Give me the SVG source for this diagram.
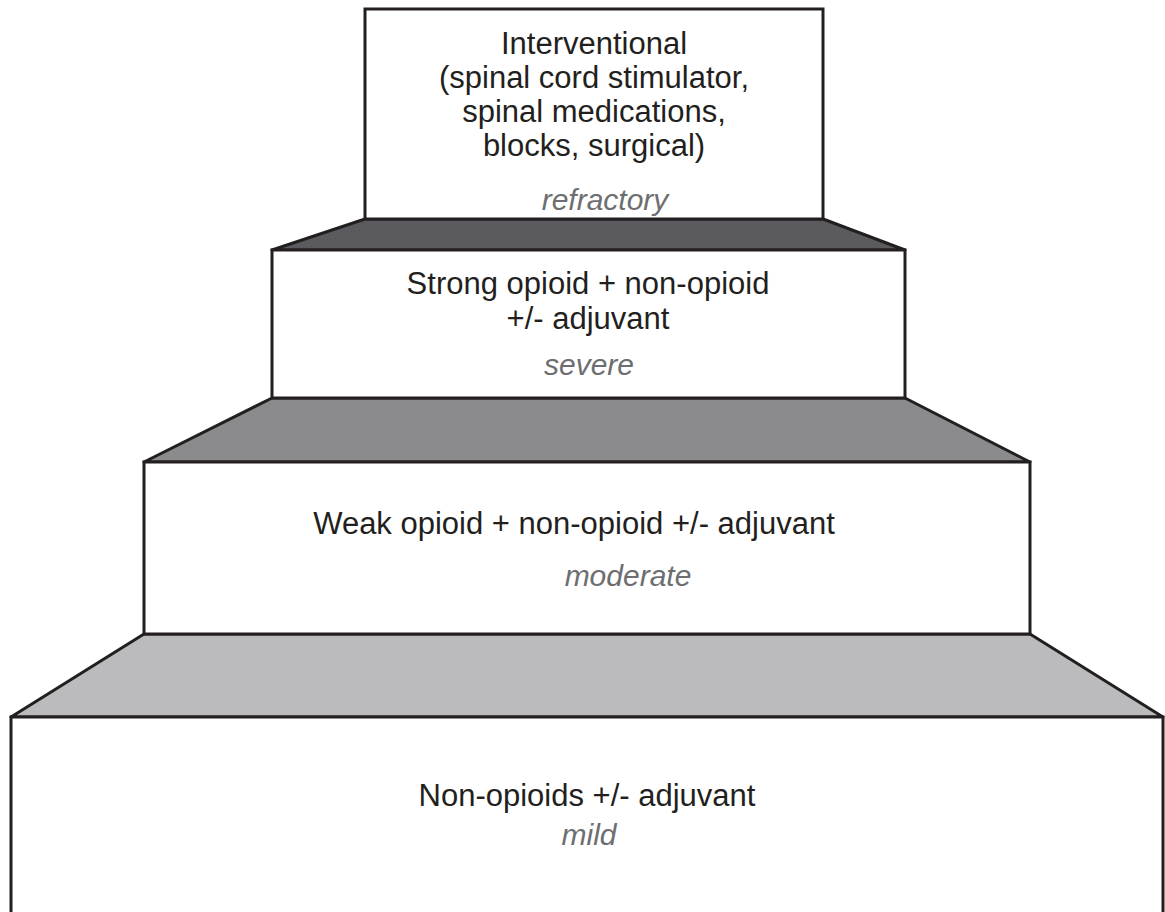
<svg xmlns="http://www.w3.org/2000/svg" width="1165" height="912" viewBox="0 0 1165 912">
<style>
.box{fill:#ffffff;stroke:#231f20;stroke-width:3}
.step{stroke:#231f20;stroke-width:3;stroke-linejoin:round}
.t{font-family:"Liberation Sans",Arial,sans-serif;font-size:31px;fill:#231f20;text-anchor:middle}
.s{font-family:"Liberation Sans",Arial,sans-serif;font-size:30px;font-style:italic;fill:#6d6e71;text-anchor:middle}
</style>
<rect width="1165" height="912" fill="#ffffff"/>
<g id="connectors">
<polygon class="step" points="365,219 823,219 905,250 272,250" fill="#5b5b5f"/>
<polygon class="step" points="272,398 905,398 1030,462 144,462" fill="#8b8b8e"/>
<polygon class="step" points="144,634 1030,634 1163,717 11,717" fill="#bbbbbe"/>
</g>
<g id="step4">
<rect class="box" x="11" y="717" width="1152" height="197"/>
<text class="t" x="587" y="806">Non-opioids +/- adjuvant</text>
<text class="s" x="589" y="845">mild</text>
</g>
<g id="step3">
<rect class="box" x="144" y="462" width="886" height="172"/>
<text class="t" x="574" y="534">Weak opioid + non-opioid +/- adjuvant</text>
<text class="s" x="628" y="586">moderate</text>
</g>
<g id="step2">
<rect class="box" x="272" y="250" width="633" height="148"/>
<text class="t" x="588" y="294">Strong opioid + non-opioid</text>
<text class="t" x="588" y="329">+/- adjuvant</text>
<text class="s" x="589" y="375">severe</text>
</g>
<g id="step1">
<rect class="box" x="365" y="9" width="458" height="210"/>
<text class="t" x="594" y="54">Interventional</text>
<text class="t" x="594" y="88">(spinal cord stimulator,</text>
<text class="t" x="594" y="122">spinal medications,</text>
<text class="t" x="594" y="156">blocks, surgical)</text>
<text class="s" x="605" y="210">refractory</text>
</g>
</svg>
